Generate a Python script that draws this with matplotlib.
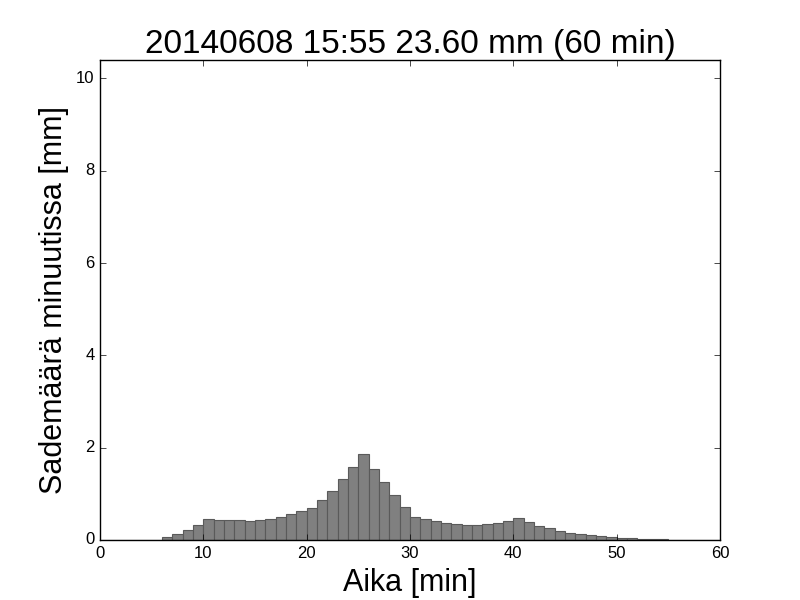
import matplotlib
matplotlib.use('Agg')
import matplotlib.pyplot as plt
import numpy as np

plt.style.use('classic')
plt.rcParams['font.family'] = ['Liberation Sans', 'DejaVu Sans']

# rain per minute [mm], minute index 0..59
minutes = np.arange(60)
rain = [0, 0, 0, 0, 0, 0, 0.065, 0.13, 0.22, 0.33,
        0.46, 0.43, 0.43, 0.43, 0.41, 0.43, 0.46, 0.50, 0.56, 0.63,
        0.69, 0.87, 1.06, 1.32, 1.58, 1.87, 1.54, 1.26, 0.98, 0.72,
        0.50, 0.46, 0.41, 0.37, 0.35, 0.33, 0.33, 0.35, 0.37, 0.41,
        0.48, 0.39, 0.30, 0.26, 0.20, 0.15, 0.13, 0.11, 0.09, 0.06,
        0.04, 0.04, 0.02, 0.02, 0.02, 0, 0, 0, 0, 0]
title = '20140608 15:55 23.60 mm (60 min)'

fig = plt.figure(figsize=(8, 6), dpi=100, facecolor='white')
ax = fig.add_axes([0.125, 0.1, 0.775, 0.8])
ax.bar(minutes, rain, width=1.0, align='edge', color='gray', edgecolor='#5a5a5a', linewidth=0.8)

ax.set_xlim(0, 60)
ax.set_ylim(0, 10.4)
ax.set_yticks([0, 2, 4, 6, 8, 10])
ax.set_xticks([0, 10, 20, 30, 40, 50, 60])
ax.tick_params(labelsize=12)
ax.set_title(title, fontsize=24)
ax.set_xlabel('Aika [min]', fontsize=22)
ax.set_ylabel('Sademäärä minuutissa [mm]', fontsize=22)

fig.savefig('out.png', dpi=100, facecolor='white')
